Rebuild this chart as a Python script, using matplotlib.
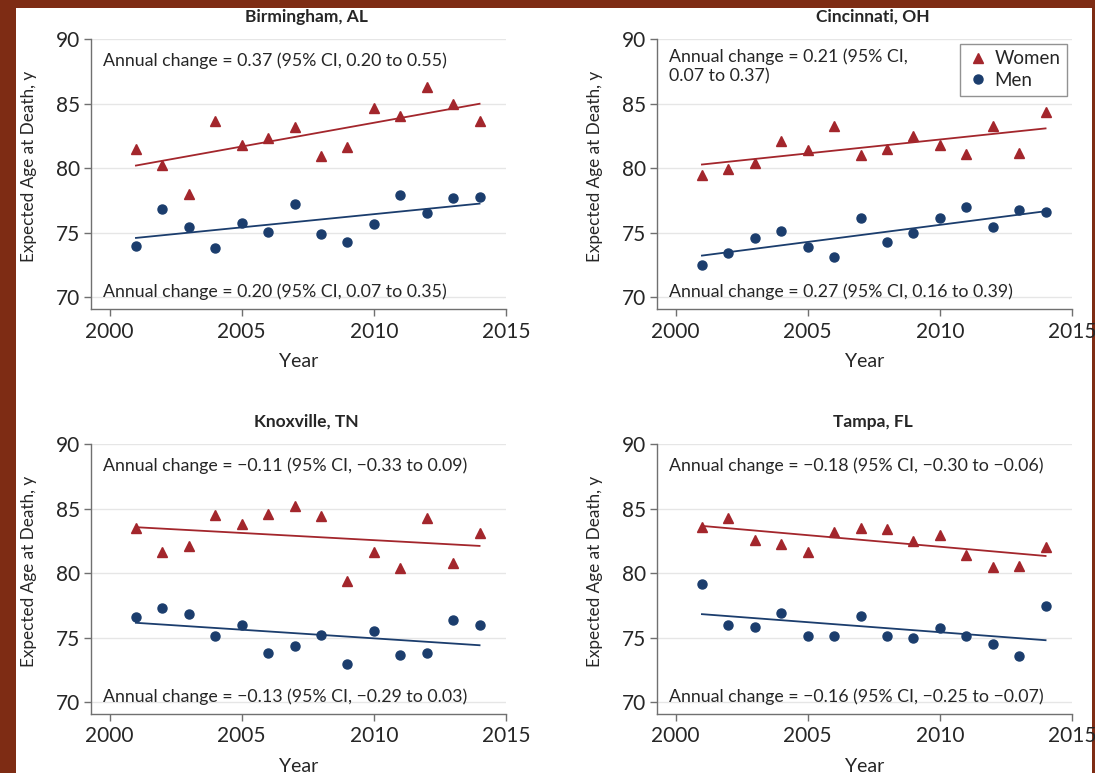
import matplotlib
matplotlib.use("Agg")
import matplotlib.pyplot as plt
from matplotlib.patches import Rectangle
import numpy as np

plt.rcParams['font.family'] = ['Lato', 'DejaVu Sans']
plt.rcParams['hatch.linewidth'] = 1.2

years = list(range(2001, 2015))

cities = ["Birmingham, AL", "Cincinnati, OH", "Knoxville, TN", "Tampa, FL"]

women_birmingham = [81.44, 80.22, 77.97, 83.64, 81.75, 82.32, 83.20, 80.94, 81.62, 84.62, 84.02, 86.27, 84.95, 83.64]
men_birmingham = [73.96, 76.80, 75.46, 73.83, 75.72, 75.05, 77.19, 74.89, 74.24, 75.64, 77.94, 76.49, 77.68, 77.79]

women_cincinnati = [79.44, 79.94, 80.35, 82.13, 81.41, 83.22, 80.99, 81.44, 82.50, 81.82, 81.05, 83.25, 81.15, 84.33]
men_cincinnati = [72.51, 73.42, 74.55, 75.15, 73.91, 73.10, 76.16, 74.27, 75.00, 76.09, 76.99, 75.43, 76.73, 76.57]

women_knoxville = [83.45, 81.63, 82.12, 84.48, 83.81, 84.61, 85.21, 84.43, 79.35, 81.61, 80.41, 84.30, 80.80, 83.08]
men_knoxville = [76.58, 77.31, 76.79, 75.10, 75.96, 73.83, 74.38, 75.23, 72.98, 75.49, 73.63, 73.78, 76.32, 75.96]

women_tampa = [83.55, 84.30, 82.56, 82.23, 81.63, 83.16, 83.45, 83.42, 82.49, 82.98, 81.42, 80.44, 80.52, 82.05]
men_tampa = [79.12, 75.96, 75.85, 76.92, 75.13, 75.08, 76.66, 75.08, 74.97, 75.75, 75.08, 74.46, 73.60, 77.44]

# fitted trend line values at 2001 and 2014
women_fit = [(80.19, 84.98), (80.27, 83.07), (83.55, 82.10), (83.65, 81.32)]
men_fit = [(74.58, 77.24), (73.21, 76.65), (76.14, 74.40), (76.81, 74.79)]
fit_years = [2001, 2014]

women_text = ["Annual change = 0.37 (95% CI, 0.20 to 0.55)",
              "Annual change = 0.21 (95% CI,\n0.07 to 0.37)",
              "Annual change = \u22120.11 (95% CI, \u22120.33 to 0.09)",
              "Annual change = \u22120.18 (95% CI, \u22120.30 to \u22120.06)"]
men_text = ["Annual change = 0.20 (95% CI, 0.07 to 0.35)",
            "Annual change = 0.27 (95% CI, 0.16 to 0.39)",
            "Annual change = \u22120.13 (95% CI, \u22120.29 to 0.03)",
            "Annual change = \u22120.16 (95% CI, \u22120.25 to \u22120.07)"]

women_all = [women_birmingham, women_cincinnati, women_knoxville, women_tampa]
men_all = [men_birmingham, men_cincinnati, men_knoxville, men_tampa]

x_ticks = [2000, 2005, 2010, 2015]
y_ticks = [70, 75, 80, 85, 90]

WOMEN_C = '#a3262c'
MEN_C = '#1b3d6d'
TEXT_C = '#262626'
SPINE_C = '#707070'

W, H = 1095, 773
fig = plt.figure(figsize=(W / 100, H / 100), dpi=100)
fig.patch.set_facecolor('#3a0805')
fig.patches.append(Rectangle((0, 0), 1, 1, transform=fig.transFigure, facecolor='#3a0805',
                             edgecolor='#7e2c14', hatch='/' * 16, linewidth=0, zorder=-3))
fig.patches.append(Rectangle((16 / W, 0), (1092 - 16) / W, 1 - 8 / H, transform=fig.transFigure,
                             facecolor='white', edgecolor='none', zorder=-2))

# axes rects in pixels: (left spine x, right x, top y (90), bottom spine y)
rects = [(91, 506, 39, 309), (657, 1072, 39, 309), (91, 506, 444, 714), (657, 1072, 444, 714)]

for i, (l, r, t, b) in enumerate(rects):
    ax = fig.add_axes([l / W, 1 - b / H, (r - l) / W, (b - t) / H])
    ax.set_xlim(1999.3, 2015)
    ax.set_ylim(69.07, 90)
    for yv in y_ticks:
        ax.axhline(yv, color='#e6e6e6', lw=1.0, zorder=0)
    ax.plot(fit_years, women_fit[i], color=WOMEN_C, lw=1.3, zorder=2)
    ax.plot(fit_years, men_fit[i], color=MEN_C, lw=1.3, zorder=2)
    ax.plot(years, women_all[i], linestyle='none', marker='^', ms=7, color=WOMEN_C, label='Women', zorder=3)
    ax.plot(years, men_all[i], linestyle='none', marker='o', ms=6.5, color=MEN_C, label='Men', zorder=3)
    ax.set_xticks(x_ticks)
    ax.set_yticks(y_ticks)
    for s in ['top', 'right']:
        ax.spines[s].set_visible(False)
    for s in ['left', 'bottom']:
        ax.spines[s].set_color(SPINE_C)
        ax.spines[s].set_linewidth(1.0)
    ax.tick_params(axis='both', colors=SPINE_C, labelcolor=TEXT_C, labelsize=15, length=5, width=1.0)
    ax.tick_params(axis='x', pad=4)
    ax.tick_params(axis='y', pad=3)
    ax.set_xlabel('Year', fontsize=14, color=TEXT_C)
    ax.xaxis.set_label_coords(0.5, -0.163)
    ax.set_ylabel('Expected Age at Death, y', fontsize=12.3, color=TEXT_C)
    ax.yaxis.set_label_coords(-0.131, 0.53)
    ax.text(0.52, 1.0 + 22 / (b - t), cities[i], transform=ax.transAxes, ha='center', va='center',
            fontsize=12.5, fontweight='bold', color=TEXT_C)
    if i == 1:
        ax.text(0.03, 89.3, women_text[i], ha='left', va='top', fontsize=12.8, color=TEXT_C,
                transform=ax.get_yaxis_transform(), linespacing=1.3)
    else:
        ax.text(0.03, 88.3, women_text[i], ha='left', va='center', fontsize=12.8, color=TEXT_C,
                transform=ax.get_yaxis_transform())
    ax.text(0.03, 70.4, men_text[i], ha='left', va='center', fontsize=12.8, color=TEXT_C,
            transform=ax.get_yaxis_transform())
    if i == 1:
        leg = ax.legend(loc='upper right', frameon=True, fancybox=False, fontsize=13.5,
                        borderaxespad=0.25, handletextpad=0.3, handlelength=1.2, borderpad=0.35,
                        labelspacing=0.25)
        leg.get_frame().set_edgecolor('#777777')
        leg.get_frame().set_linewidth(1.0)
        for txt in leg.get_texts():
            txt.set_color(TEXT_C)

fig.savefig('out.png', dpi=100, facecolor=fig.get_facecolor())
